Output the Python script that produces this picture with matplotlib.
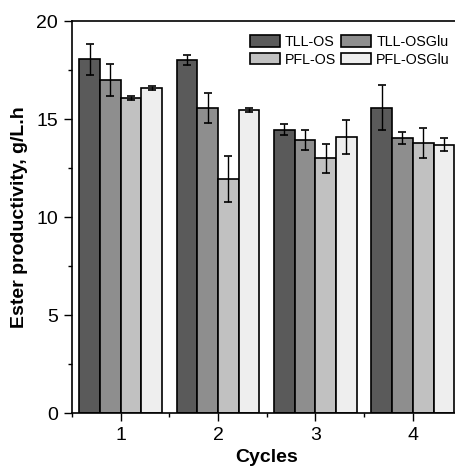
import matplotlib
matplotlib.use("Agg")
import matplotlib.pyplot as plt
import numpy as np
from matplotlib.ticker import MultipleLocator

plt.rcParams['font.family'] = ['Liberation Sans', 'DejaVu Sans']

cycles = [1, 2, 3, 4]
series = ["TLL-OS", "TLL-OSGlu", "PFL-OS", "PFL-OSGlu"]
tll_os = [18.05, 18.03, 14.44, 15.58]
tll_os_err = [0.80, 0.26, 0.28, 1.15]
tll_osglu = [17.00, 15.58, 13.95, 14.05]
tll_osglu_err = [0.83, 0.77, 0.51, 0.30]
pfl_os = [16.07, 11.94, 12.99, 13.79]
pfl_os_err = [0.11, 1.18, 0.74, 0.76]
pfl_osglu = [16.58, 15.46, 14.08, 13.69]
pfl_osglu_err = [0.12, 0.08, 0.88, 0.32]

values = [tll_os, tll_osglu, pfl_os, pfl_osglu]
errors = [tll_os_err, tll_osglu_err, pfl_os_err, pfl_osglu_err]
colors = ["#5a5a5a", "#8e8e8e", "#c1c1c1", "#eeeeee"]

W, H = 456, 473
fig = plt.figure(figsize=(W / 100, H / 100), dpi=100)
ax = fig.add_axes([72 / W, 60 / H, (461.5 - 72) / W, 392 / H])

x = np.array(cycles, dtype=float)
bw = 0.2125
handles = []
for i, (vals, errs, c, lab) in enumerate(zip(values, errors, colors, series)):
    pos = x + (i - 1.5) * bw
    h = ax.bar(pos, vals, width=bw, color=c, edgecolor="black", linewidth=1.2, label=lab, zorder=2)
    handles.append(h)
    ax.errorbar(pos, vals, yerr=errs, fmt="none", ecolor="black", elinewidth=1.0,
                capsize=3, capthick=1.2, zorder=3)

ax.set_xlim(0.5, 4.5)
ax.set_ylim(0, 20)
ax.set_xticks(cycles)
ax.xaxis.set_minor_locator(MultipleLocator(0.5))
ax.set_yticks([0, 5, 10, 15, 20])
ax.yaxis.set_minor_locator(MultipleLocator(2.5))
ax.tick_params(axis="both", which="major", direction="out", length=6, width=1.0,
               labelsize=14, pad=4)
ax.tick_params(axis="both", which="minor", direction="out", length=3, width=1.0)
ax.tick_params(axis="x", which="minor", labelbottom=False)

for s in ax.spines.values():
    s.set_linewidth(1.2)

ax.set_xlabel("Cycles", fontsize=14, fontweight="bold", labelpad=4)
ax.set_ylabel("Ester productivity, g/L.h", fontsize=14, fontweight="bold", labelpad=6)

order = [0, 2, 1, 3]
leg = ax.legend([handles[k] for k in order], [series[k] for k in order],
                ncol=2, frameon=False, fontsize=10.3, loc="upper left",
                bbox_to_anchor=(250 / W, 1 - 35 / H), bbox_transform=fig.transFigure,
                handlelength=2.1, handleheight=0.85, handletextpad=0.35,
                columnspacing=0.35, labelspacing=0.25, borderpad=0, borderaxespad=0)

fig.savefig("out.png", dpi=100)
